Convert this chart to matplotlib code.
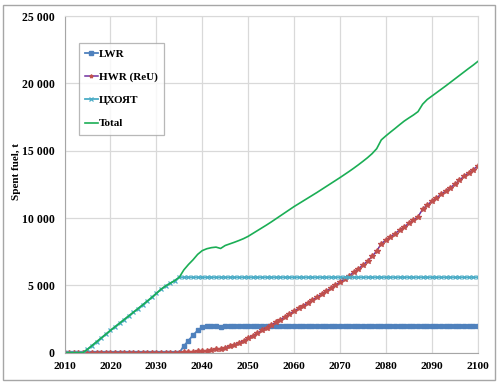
import matplotlib
matplotlib.use('Agg')
import matplotlib.pyplot as plt
from matplotlib.ticker import FuncFormatter, MultipleLocator
from matplotlib.patches import Rectangle

years = list(range(2010, 2101))

# LWR spent fuel, t
lwr = [0] * 26 + [500, 900, 1300, 1650, 1900, 2000, 2000, 2000, 1900] + [2000] * 56

# HWR (ReU) spent fuel, t
hwr = ([0] * 26 +
       [20, 40, 60, 90, 120, 150, 190, 240, 300, 380,
        470, 580, 720, 880, 1080, 1260, 1450, 1650, 1850, 2050,
        2250, 2450, 2660, 2870, 3080, 3290, 3500, 3710, 3920, 4130,
        4350, 4570, 4790, 5010, 5240, 5480, 5720, 5970, 6230, 6500,
        6800, 7150, 7550, 8100, 8350, 8600, 8850, 9100, 9350, 9600,
        9850, 10100, 10650, 10950, 11250, 11500, 11750, 12000, 12250, 12500,
        12800, 13100, 13350, 13600, 13850])

# ЦХОЯТ (central storage)
storage = ([0] * 5 +
           [250, 530, 810, 1090, 1370, 1650, 1920, 2190, 2460, 2730,
            3000, 3270, 3540, 3820, 4100, 4400, 4700, 4950, 5150, 5350,
            5600] + [5600] * 65)

total = ([0] * 5 +
         [250, 530, 810, 1090, 1370, 1650, 1920, 2190, 2460, 2730,
          3000, 3270, 3540, 3820, 4100, 4400, 4700, 4950, 5150, 5350,
          5600, 6150, 6550, 6900, 7300, 7580, 7720, 7800, 7840, 7740,
          7960, 8080, 8200, 8330, 8470, 8640, 8850, 9060, 9270, 9480,
          9700, 9930, 10160, 10390, 10620, 10850, 11060, 11270, 11480, 11690,
          11900, 12120, 12340, 12560, 12780, 13000, 13230, 13460, 13700, 13950,
          14210, 14480, 14780, 15150, 15800, 16100, 16380, 16650, 16930, 17200,
          17430, 17650, 17900, 18450, 18800, 19050, 19300, 19550, 19800, 20060,
          20320, 20580, 20840, 21100, 21350, 21620])

font = 'Liberation Serif'

fig = plt.figure(figsize=(5.0, 3.85), dpi=100)
fig.patches.append(Rectangle((0.006, 0.013), 0.984, 0.974, transform=fig.transFigure,
                             fill=False, edgecolor='#a6a6a6', linewidth=1.0))
ax = fig.add_axes([0.129, 0.0839, 0.8264, 0.8745])

ax.plot(years, lwr, color='#4F81BD', lw=1.3, marker='s', ms=3.4, mec='#4F81BD', mfc='#4F81BD', label='LWR')
ax.plot(years, hwr, color='#7030A0', lw=1.1, marker='*', ms=3.8, mec='#C0504D', mfc='#C0504D', label='HWR (ReU)')
ax.plot(years, storage, color='#4BACC6', lw=1.3, marker='x', ms=3.5, mec='#4BACC6', mew=0.9, label='ЦХОЯТ')
ax.plot(years, total, color='#1BAE55', lw=1.2, label='Total')

ax.set_xlim(2010, 2100)
ax.set_ylim(0, 25000)
ax.xaxis.set_major_locator(MultipleLocator(10))
ax.yaxis.set_major_locator(MultipleLocator(5000))
ax.yaxis.set_major_formatter(FuncFormatter(lambda v, p: f'{v:,.0f}'.replace(',', ' ')))
ax.grid(True, color='#d9d9d9', lw=0.9)
ax.set_axisbelow(True)
for s in ['top', 'right']:
    ax.spines[s].set_color('#d9d9d9')
for s in ['left', 'bottom']:
    ax.spines[s].set_color('#a6a6a6')
ax.tick_params(length=0, pad=7)
for lab in ax.get_xticklabels():
    lab.set_fontfamily(font)
    lab.set_fontweight('bold')
    lab.set_fontsize(8.2)
for lab in ax.get_yticklabels():
    lab.set_fontfamily(font)
    lab.set_fontweight('bold')
    lab.set_fontsize(8.5)

ax.set_ylabel('Spent fuel, t', fontfamily=font, fontweight='bold', fontsize=8)
ax.yaxis.set_label_coords(-0.106, 0.537)

leg = ax.legend(loc='upper left', bbox_to_anchor=(0.035, 0.92), frameon=True, fancybox=False,
                prop={'family': font, 'weight': 'bold', 'size': 8},
                handlelength=1.15, handletextpad=0.1, labelspacing=1.2, borderpad=0.55,
                markerscale=0.7, borderaxespad=0)
leg.get_frame().set_edgecolor('#a6a6a6')
leg.get_frame().set_linewidth(0.9)

fig.savefig('out.png', dpi=100)
